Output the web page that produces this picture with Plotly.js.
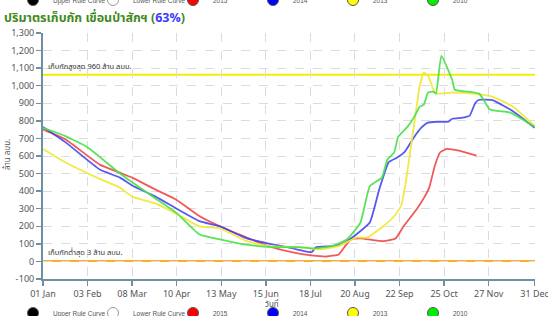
<!DOCTYPE html>
<html>
<head>
<meta charset="utf-8">
<script src="https://cdn.plot.ly/plotly-3.0.1.min.js"></script>
<style>html,body{margin:0;padding:0;background:#fff}#chart{width:548px;height:316px}</style>
</head>
<body>
<div id="chart"></div>
<script>
// ---- data (values in million m3) ----
const baseYear = 2015;
const tickDays = ["01-01","02-03","03-08","04-10","05-13","06-15","07-18","08-20","09-22","10-25","11-27","12-31"];
const tickLabels = ["01 Jan","03 Feb","08 Mar","10 Apr","13 May","15 Jun","18 Jul","20 Aug","22 Sep","25 Oct","27 Nov","31 Dec"];

const days2015 = ["01-01","01-18","02-12","02-27","03-08","03-25","04-10","04-27","05-12","06-01","06-17","07-05","07-19","07-30","08-08","08-13","08-17","08-24","09-10","09-19","09-25","09-30","10-05","10-10","10-14","10-18","10-22","10-27","11-05","11-18"];
const vol2015  = [750,693,551,505,477,410,350,257,200,136,87,51,34,28,40,90,125,131,115,130,200,250,300,360,420,540,620,640,630,602];

const days2014 = ["01-01","01-18","02-12","02-27","03-08","03-25","04-10","04-27","05-12","06-01","06-17","07-05","07-19","07-22","08-03","08-11","08-18","08-31","09-07","09-14","09-20","09-26","10-03","10-08","10-13","10-20","10-28","10-31","11-08","11-13","11-17","11-20","11-30","12-07","12-13","12-22","12-31"];
const vol2014  = [765,676,523,477,432,370,300,229,199,131,102,74,53,80,87,102,136,222,410,565,590,625,710,760,790,795,795,812,818,830,900,920,918,890,864,815,761];

const days2013 = ["01-01","01-18","02-12","02-27","03-08","03-25","04-10","04-27","05-12","06-01","06-17","07-10","07-25","08-08","08-21","08-29","09-10","09-18","09-23","09-26","10-03","10-07","10-10","10-13","10-17","10-19","10-29","11-15","11-30","12-15","12-31"];
const vol2013  = [640,562,470,420,369,330,270,199,188,115,87,80,68,87,136,136,200,257,314,420,790,1000,1074,1060,980,955,960,955,937,881,770];

const days2010 = ["01-01","01-18","02-03","02-27","03-08","03-25","04-10","04-27","05-12","05-30","06-20","07-10","07-19","08-03","08-14","08-24","08-31","09-09","09-13","09-18","09-21","09-28","10-03","10-07","10-10","10-13","10-17","10-19","10-23","10-31","11-02","11-20","11-28","12-13","12-31"];
const vol2010  = [760,712,650,500,450,360,275,153,125,97,81,81,74,87,125,220,428,477,580,619,710,767,824,881,892,960,966,955,1170,1034,977,955,864,847,767];

const capacityLine = 1062;   // drawn level of the "960" label line
const minLine = 3;
const capacityText = "เก็บกักสูงสุด 960 ล้าน ลบม.";
const minText = "เก็บกักต่ำสุด 3 ล้าน ลบม.";
const xTitle = "วันที่";
const yTitle = "ล้าน ลบม.";

const legendNames  = ["Upper Rule Curve","Lower Rule Curve","2015","2014","2013","2010"];
const legendFills  = ["#000000","#ffffff","#ff0000","#0000ff","#ffff00","#00ee00"];

// ---- build ----
const toDate = d => baseYear + "-" + d;
const FONT = "Tahoma, 'Noto Sans Thai', 'Noto Sans', 'DejaVu Sans', sans-serif";

const series = [
  {name:"2015", days:days2015, vals:vol2015, color:"rgba(240,70,70,0.9)"},
  {name:"2014", days:days2014, vals:vol2014, color:"rgba(60,60,240,0.85)"},
  {name:"2013", days:days2013, vals:vol2013, color:"rgba(240,232,60,0.95)"},
  {name:"2010", days:days2010, vals:vol2010, color:"rgba(70,225,70,0.9)"}
];

const traces = series.map(s => ({
  type:"scatter", mode:"lines", name:s.name,
  x:s.days.map(toDate), y:s.vals,
  line:{color:s.color, width:1.8, shape:"spline", smoothing:0.4},
  showlegend:false, hoverinfo:"skip"
}));

["legend","legend2"].forEach(lg => {
  legendNames.forEach((n,i) => {
    traces.push({
      type:"scatter", mode:"markers", name:n, x:[null], y:[null],
      marker:{size:11, color:legendFills[i], line:{color: i===1 ? "#999" : "#555", width:1}},
      legend:lg, showlegend:true, hoverinfo:"skip"
    });
  });
});

const axisColor = "#6f8fa3";
const legendCommon = {
  orientation:"h", xanchor:"left", yanchor:"middle",
  entrywidth:35, entrywidthmode:"pixels",
  font:{family:"'Liberation Sans', Arial, sans-serif", size:6.5, color:"#555"}, bgcolor:"rgba(0,0,0,0)",
  itemsizing:"trace", traceorder:"normal"
};

const layout = {
  width:548, height:316,
  margin:{l:43, r:13, t:33, b:37, autoexpand:false},
  paper_bgcolor:"#fff", plot_bgcolor:"#fff",
  font:{family:FONT, size:9, color:"#444"},
  title:{
    text:"<b>ปริมาตรเก็บกัก เขื่อนป่าสักฯ (<span style='color:#3a3aff'>63%</span>)</b>",
    font:{family:FONT, size:12.5, color:"#3f8a22"},
    xref:"container", yref:"container", x:4/548, xanchor:"left", y:1-18/316, yanchor:"middle"
  },
  xaxis:{
    type:"date", range:[toDate("01-01"), toDate("12-31") + " 08:00"],
    tickvals:tickDays.map(toDate), ticktext:tickLabels, ticklabeloverflow:"allow",
    showgrid:true, gridcolor:"#dcdcdc", griddash:"dash", gridwidth:1,
    showline:true, linecolor:axisColor, linewidth:2,
    ticks:"outside", ticklen:5, tickcolor:axisColor, tickwidth:1.5,
    tickfont:{size:9, color:"#555"}, zeroline:false
  },
  yaxis:{
    range:[-100,1300], dtick:100, tick0:0, tickformat:",d",
    showgrid:true, gridcolor:"#dcdcdc", griddash:"dash", gridwidth:1,
    showline:true, linecolor:axisColor, linewidth:2,
    ticks:"outside", ticklen:5, tickcolor:axisColor, tickwidth:1.5,
    tickfont:{size:9, color:"#555"}, zeroline:false
  },
  shapes:[
    {type:"line", xref:"paper", x0:0, x1:1, yref:"y", y0:capacityLine, y1:capacityLine, line:{color:"#f2ee00", width:2}, layer:"below"},
    {type:"line", xref:"paper", x0:0, x1:1, yref:"y", y0:minLine, y1:minLine, line:{color:"#ffad22", width:2}, layer:"below"}
  ],
  annotations:[
    {xref:"paper", x:0.006, yref:"y", y:capacityLine, yshift:1, xanchor:"left", yanchor:"bottom", text:capacityText, showarrow:false, font:{size:7.5, color:"#333"}},
    {xref:"paper", x:0.006, yref:"y", y:minLine, yshift:1, xanchor:"left", yanchor:"bottom", text:minText, showarrow:false, font:{size:7.5, color:"#333"}},
    {xref:"paper", x:(272-43)/492, yref:"paper", y:-(304-279)/246, xanchor:"center", yanchor:"middle", text:xTitle, showarrow:false, font:{size:8, color:"#555"}},
    {xref:"paper", x:-(43-8)/492, yref:"paper", y:(279-155)/246, xanchor:"center", yanchor:"middle", textangle:-90, text:yTitle, showarrow:false, font:{size:8, color:"#555"}}
  ],
  legend:Object.assign({x:(13-43)/492, y:1+33/246}, legendCommon),
  legend2:Object.assign({x:(13-43)/492, y:-(313-279)/246}, legendCommon),
  showlegend:true
};

Plotly.newPlot("chart", traces, layout, {staticPlot:true, displayModeBar:false});
</script>
</body>
</html>
